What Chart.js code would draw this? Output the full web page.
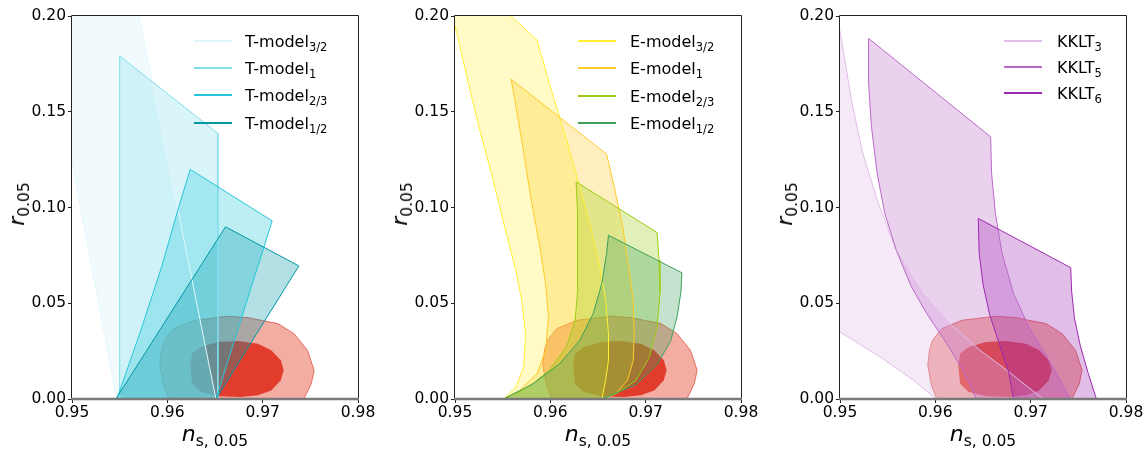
<!DOCTYPE html>
<html>
<head>
<meta charset="utf-8">
<script src="https://cdn.jsdelivr.net/npm/chart.js@4.4.0/dist/chart.umd.min.js"></script>
<style>
  body { margin: 0; background: #fff; }
  #wrap { position: relative; width: 1146px; height: 450px; font-family: "DejaVu Sans", sans-serif; color: #000; overflow: hidden; }
  canvas { position: absolute; top: 0; }
  .lab { position: absolute; white-space: nowrap; line-height: 22px; font-size: 22px; transform: translate(-50%, -50%); }
  .lab.y { transform: translate(-50%, -50%) rotate(-90deg); }
  .lab .s { position: relative; top: 5px; font-size: 15.5px; font-style: normal; }
  .leg { position: absolute; font-size: 16px; line-height: 16px; white-space: nowrap; }
  .leg .s { position: relative; top: 4px; font-size: 11.5px; }
  .sw { position: absolute; height: 2px; width: 38px; }
</style>
</head>
<body>
<div id="wrap">
  <canvas id="c1" width="378" height="450" style="left:0px"></canvas>
  <canvas id="c2" width="378" height="450" style="left:383px"></canvas>
  <canvas id="c3" width="378" height="450" style="left:768px"></canvas>
</div>
<script>
// axis ticks
const nsTicks = [0.95, 0.96, 0.97, 0.98];
const rTicks = [0, 0.05, 0.10, 0.15, 0.20];

// Planck contours (n_s, r)
const planck95 = [[0.9592,0.0176],[0.9594,0.026],[0.9597,0.0307],[0.9607,0.0368],[0.9628,0.0411],[0.9663,0.0432],
  [0.9685,0.0425],[0.9698,0.0411],[0.9716,0.0394],[0.9733,0.0341],[0.9747,0.0254],[0.9754,0.015],[0.9751,0.008],
  [0.9746,0.0028],[0.9740,-0.003],[0.9604,-0.003],[0.9596,0.007]];
const planck68 = [[0.9624,0.0176],[0.9626,0.0237],[0.9635,0.0272],[0.9653,0.0298],[0.9674,0.0303],[0.9695,0.0289],
  [0.9709,0.0254],[0.9719,0.0202],[0.9722,0.015],[0.9719,0.0098],[0.9709,0.0045],[0.9695,0.0019],[0.9677,0.001],
  [0.9653,0.0014],[0.9635,0.0037],[0.9626,0.008]];

// T-models
const tModel32 = [[0.9547,0],[0.9456,0.24],[0.9554,0.24],[0.9651,0]];
const tModel1 = [[0.9550,0],[0.9550,0.1791],[0.9653,0.1387],[0.9653,0]];
const tModel23 = [[0.9547,0],[0.9571,0.0341],[0.9594,0.069],[0.9612,0.1003],[0.9624,0.1199],[0.9710,0.093],[0.9651,0]];
const tModel12 = [[0.9546,0],[0.9661,0.0899],[0.9738,0.0695],[0.9651,0]];

// E-models
const eModel32 = [[0.9551,0],[0.9564,0.0063],[0.9572,0.0167],[0.9574,0.0341],[0.9570,0.0516],[0.9563,0.069],[0.9552,0.0899],
  [0.9540,0.1143],[0.9526,0.1404],[0.9514,0.1648],[0.9502,0.1909],[0.9478,0.237],[0.9586,0.1875],[0.9599,0.1648],
  [0.9617,0.1352],[0.9631,0.1108],[0.9643,0.0882],[0.9652,0.069],[0.9658,0.0516],[0.9661,0.0341],[0.9661,0.0202],
  [0.9658,0.0098],[0.9654,0]];
const eModel1 = [[0.9551,0],[0.9568,0.0045],[0.9586,0.0132],[0.9595,0.0254],[0.9598,0.0429],[0.9595,0.0603],[0.9589,0.0794],
  [0.9580,0.1038],[0.9570,0.1352],[0.9559,0.1669],[0.9659,0.1279],[0.9667,0.1108],[0.9676,0.0899],[0.9682,0.069],
  [0.9687,0.0516],[0.9688,0.0341],[0.9687,0.0202],[0.9681,0.0098],[0.9669,0.0028],[0.9654,0]];
const eModel23 = [[0.9551,0],[0.9575,0.0054],[0.9599,0.015],[0.9617,0.0272],[0.9626,0.0411],[0.9629,0.0585],[0.9629,0.076],
  [0.9628,0.0969],[0.9627,0.1134],[0.9712,0.0869],[0.9714,0.0725],[0.9715,0.0551],[0.9712,0.0376],[0.9704,0.022],
  [0.9690,0.0098],[0.9669,0.0028],[0.9654,0]];
const eModel12 = [[0.9551,0],[0.9582,0.008],[0.9610,0.0185],[0.9631,0.0307],[0.9645,0.0446],[0.9654,0.0603],[0.9659,0.076],
  [0.9661,0.0855],[0.9738,0.0659],[0.9737,0.0560],[0.9733,0.0430],[0.9726,0.0300],[0.9712,0.0180],[0.9690,0.0075],[0.9654,0]];

// KKLT
const kklt3 = [[0.9495,0.0366],[0.9500,0.035],[0.9542,0.022],[0.9577,0.0098],[0.9601,0],[0.9713,0],[0.9675,0.015],
  [0.9647,0.0254],[0.9615,0.0394],[0.9587,0.0551],[0.9559,0.0777],[0.9539,0.1038],[0.9523,0.130],[0.9512,0.1561],
  [0.9501,0.1892],[0.9495,0.2056]];
const kklt5 = [[0.9530,0.1883],[0.9658,0.1369],[0.9659,0.1178],[0.9663,0.0969],[0.9670,0.076],[0.9682,0.0551],[0.9698,0.0376],
  [0.9717,0.022],[0.9733,0.008],[0.9741,0],[0.9643,0],[0.9629,0.015],[0.9612,0.0289],[0.9591,0.0446],[0.9575,0.0585],
  [0.9559,0.0777],[0.9547,0.0969],[0.9539,0.1178],[0.9533,0.1422],[0.9530,0.1648]];
const kklt6 = [[0.9645,0.0943],[0.9742,0.0686],[0.9743,0.0560],[0.9746,0.0420],[0.9752,0.0280],[0.9760,0.0140],[0.9769,0],[0.9682,0],
  [0.9677,0.014],[0.9667,0.0289],[0.9657,0.044],[0.9650,0.06],[0.9646,0.076]];

const tNames = [['T-model','3/2'],['T-model','1'],['T-model','2/3'],['T-model','1/2']];
const eNames = [['E-model','3/2'],['E-model','1'],['E-model','2/3'],['E-model','1/2']];
const kNames = [['KKLT','3'],['KKLT','5'],['KKLT','6']];

const tColors = [[224,247,250],[128,222,234],[38,198,218],[0,151,167]];
const eColors = [[255,238,51],[255,202,40],[156,204,20],[60,160,90]];
const kColors = [[225,190,231],[186,104,200],[156,39,176]];

function rgba(c, a) { return 'rgba(' + c.join(',') + ',' + a + ')'; }

function polygon(pts, border, fill, order, width) {
  const data = pts.map(p => ({x: p[0], y: p[1]}));
  data.push({x: pts[0][0], y: pts[0][1]});
  return {
    data: data,
    borderColor: border,
    backgroundColor: fill,
    borderWidth: width,
    fill: fill ? 'shape' : false,
    pointRadius: 0,
    tension: 0,
    order: order
  };
}

function planckSets() {
  return [
    polygon(planck95, 'rgba(220,70,50,0.7)', 'rgba(228,74,52,0.45)', 100, 1),
    polygon(planck68, 'rgba(222,40,24,0)', 'rgba(222,40,24,0.85)', 99, 0)
  ];
}

const framePlugin = {
  id: 'frame',
  afterDatasetsDraw(chart) {
    const {ctx, chartArea: a} = chart;
    ctx.save();
    ctx.strokeStyle = '#222';
    ctx.lineWidth = 1;
    ctx.beginPath();
    ctx.moveTo(a.left - 0.5, a.bottom);
    ctx.lineTo(a.left - 0.5, a.top - 0.5);
    ctx.lineTo(a.right + 0.5, a.top - 0.5);
    ctx.lineTo(a.right + 0.5, a.bottom);
    ctx.stroke();
    ctx.strokeStyle = '#7a7a7a';
    ctx.lineWidth = 2.5;
    ctx.beginPath();
    ctx.moveTo(a.left - 1, a.bottom);
    ctx.lineTo(a.right + 1, a.bottom);
    ctx.stroke();
    ctx.restore();
  }
};

function makeChart(id, models, colors, alphas) {
  const sets = planckSets();
  // fills first (first model lowest), then all outlines on top
  models.forEach((m, i) => {
    sets.push(polygon(m, 'rgba(0,0,0,0)', rgba(colors[i], alphas[i]), 50 - i, 0));
  });
  models.forEach((m, i) => {
    sets.push(polygon(m, rgba(colors[i], 1), null, 10 - i, 1));
  });
  const tickFont = {family: 'DejaVu Sans', size: 15.5};
  new Chart(document.getElementById(id), {
    type: 'line',
    data: {datasets: sets},
    plugins: [framePlugin],
    options: {
      responsive: false,
      animation: false,
      layout: {padding: {left: 0, right: 20, top: 16, bottom: 0}},
      plugins: {legend: {display: false}, tooltip: {enabled: false}},
      scales: {
        x: {
          type: 'linear', min: 0.95, max: 0.98,
          afterBuildTicks: s => { s.ticks = nsTicks.map(v => ({value: v})); },
          afterFit: s => { s.height = 51; },
          border: {display: false},
          grid: {display: true, drawOnChartArea: false, drawTicks: true, tickLength: 4, tickColor: '#222'},
          ticks: {font: tickFont, color: '#000', padding: 1, maxRotation: 0, callback: v => v.toFixed(2)}
        },
        y: {
          type: 'linear', min: 0, max: 0.2,
          afterBuildTicks: s => { s.ticks = rTicks.map(v => ({value: v})); },
          afterFit: s => { s.width = 72; },
          border: {display: false},
          grid: {display: true, drawOnChartArea: false, drawTicks: true, tickLength: 4, tickColor: '#222'},
          ticks: {font: tickFont, color: '#000', padding: 2, callback: v => v.toFixed(2)}
        }
      }
    }
  });
}

makeChart('c1', [tModel32, tModel1, tModel23, tModel12], tColors, [0.45, 0.3, 0.3, 0.3]);
makeChart('c2', [eModel32, eModel1, eModel23, eModel12], eColors, [0.28, 0.3, 0.3, 0.3]);
makeChart('c3', [kklt3, kklt5, kklt6], kColors, [0.35, 0.3, 0.3]);

// axis titles and legends as HTML text
const wrap = document.getElementById('wrap');
const panelLefts = [72, 455, 840];
const panelWidth = 286;

panelLefts.forEach(left => {
  const xl = document.createElement('div');
  xl.className = 'lab';
  xl.style.left = (left + panelWidth / 2) + 'px';
  xl.style.top = '435px';
  xl.innerHTML = '<i>n</i><span class="s">s, 0.05</span>';
  wrap.appendChild(xl);
  const yl = document.createElement('div');
  yl.className = 'lab y';
  yl.style.left = (left - 54) + 'px';
  yl.style.top = '204px';
  yl.innerHTML = '<i>r</i><span class="s">0.05</span>';
  wrap.appendChild(yl);
});

function legend(names, colors, lineX, textX, y0, dy) {
  names.forEach((n, i) => {
    const y = y0 + i * dy;
    const sw = document.createElement('div');
    sw.className = 'sw';
    sw.style.left = lineX + 'px';
    sw.style.top = Math.round(y - 1) + 'px';
    sw.style.background = rgba(colors[i], 1);
    wrap.appendChild(sw);
    const t = document.createElement('div');
    t.className = 'leg';
    t.style.left = textX + 'px';
    t.style.top = (y + 6.5 - 13.5) + 'px';
    t.innerHTML = n[0] + '<span class="s">' + n[1] + '</span>';
    wrap.appendChild(t);
  });
}

legend(tNames, tColors, 194, 245, 40.7, 27.3);
legend(eNames, eColors, 578, 630, 40.7, 27.5);
legend(kNames, kColors, 1004, 1057, 40.7, 26);
</script>
</body>
</html>
